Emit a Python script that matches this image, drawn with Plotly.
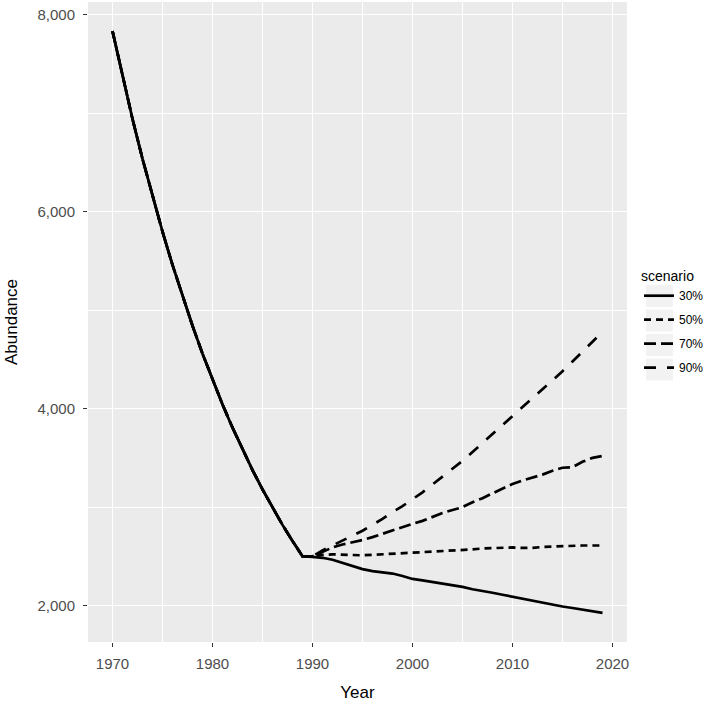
import plotly.graph_objects as go

# ---------------- data ----------------
hist_years = list(range(1970, 1990))
hist_values = [7836, 7373, 6943, 6538, 6157, 5798, 5460, 5141, 4842, 4559,
               4293, 4043, 3807, 3585, 3376, 3179, 2994, 2819, 2655, 2500]

proj_years = list(range(1990, 2020))
scen_30 = [2495, 2485, 2465, 2435, 2400, 2370, 2350, 2340, 2325, 2300,
           2270, 2255, 2240, 2225, 2205, 2190, 2165, 2150, 2130, 2110,
           2090, 2065, 2045, 2025, 2005, 1990, 1975, 1960, 1945, 1925]
scen_50 = [2500, 2515, 2520, 2515, 2510, 2510, 2515, 2520, 2525, 2530,
           2540, 2545, 2550, 2555, 2555, 2560, 2570, 2580, 2585, 2585,
           2590, 2585, 2585, 2595, 2600, 2605, 2605, 2610, 2610, 2610]
scen_70 = [2500, 2545, 2590, 2620, 2640, 2665, 2695, 2730, 2765, 2800,
           2830, 2860, 2900, 2940, 2970, 3000, 3050, 3090, 3140, 3190,
           3235, 3270, 3300, 3330, 3370, 3400, 3405, 3460, 3500, 3520]
scen_90 = [2500, 2560, 2610, 2660, 2710, 2760, 2820, 2880, 2950, 3010,
           3080, 3150, 3230, 3310, 3390, 3470, 3560, 3650, 3740, 3840,
           3930, 4020, 4110, 4200, 4290, 4380, 4480, 4580, 4680, 4780]

scenario_names = ["30%", "50%", "70%", "90%"]
scenario_dash = ["solid", "7px,5px", "12px,5px", "12px,11px"]
x_ticks = [1970, 1980, 1990, 2000, 2010, 2020]
y_ticks = [2000, 4000, 6000, 8000]

# ---------------- figure ----------------
W, H = 709, 709
ML, MR, MT, MB = 88, 82, 2, 67
PW, PH = W - ML - MR, H - MT - MB

fig = go.Figure()
series = [scen_30, scen_50, scen_70, scen_90]
for name, vals, dash in zip(scenario_names, series, scenario_dash):
    fig.add_trace(go.Scatter(
        x=hist_years + proj_years, y=hist_values + vals,
        mode="lines", name=name, legendgroup=name,
        line=dict(color="black", width=2.7, dash=dash),
    ))

all_x = hist_years + proj_years
all_y = hist_values + scen_30 + scen_50 + scen_70 + scen_90
xr = max(all_x) - min(all_x)
yr = max(all_y) - min(all_y)
x_range = [min(all_x) - 0.05 * xr, max(all_x) + 0.05 * xr]
y_range = [min(all_y) - 0.05 * yr, max(all_y) + 0.05 * yr]

FONT = "Liberation Sans, Arial, sans-serif"

fig.update_layout(
    width=W, height=H,
    margin=dict(l=ML, r=MR, t=MT, b=MB, autoexpand=False),
    paper_bgcolor="white", plot_bgcolor="#EBEBEB",
    font=dict(family=FONT, color="black"),
    showlegend=True,
    legend=dict(
        title=dict(text="scenario", font=dict(size=14, color="black")),
        font=dict(size=12, color="black"),
        x=(639 - ML) / PW, xanchor="left",
        y=(H - MB - 263) / PH, yanchor="top",
        bgcolor="rgba(0,0,0,0)", tracegroupgap=5,
        itemwidth=30,
    ),
)

fig.update_xaxes(
    range=x_range, tickvals=x_ticks, ticktext=[str(t) for t in x_ticks],
    showgrid=True, gridcolor="white", gridwidth=1.4,
    minor=dict(dtick=5, tick0=1965, showgrid=True, gridcolor="white", gridwidth=0.7),
    zeroline=False, showline=False, automargin=False,
    ticks="outside", ticklen=4, tickwidth=1, tickcolor="#333333",
    ticklabelstandoff=4,
    tickfont=dict(size=15, color="#4D4D4D", family=FONT),
    title=dict(text="Year", font=dict(size=17, color="black", family=FONT)),
)
fig.update_yaxes(
    range=y_range, tickvals=y_ticks, tickformat=",d",
    showgrid=True, gridcolor="white", gridwidth=1.4,
    minor=dict(dtick=1000, tick0=1000, showgrid=True, gridcolor="white", gridwidth=0.7),
    zeroline=False, showline=False, automargin=False,
    ticks="outside", ticklen=4, tickwidth=1, tickcolor="#333333",
    ticklabelstandoff=5,
    tickfont=dict(size=15, color="#4D4D4D", family=FONT),
    title=dict(text="Abundance", font=dict(size=17, color="black", family=FONT)),
)

# grey legend key backgrounds (ggplot style)
key_centers_px = [296, 320.5, 345, 369.5]
for cy in key_centers_px:
    fig.add_shape(
        type="rect", xref="paper", yref="paper",
        x0=(646 - ML) / PW, x1=(673 - ML) / PW,
        y0=(H - MB - (cy + 11)) / PH, y1=(H - MB - (cy - 11)) / PH,
        fillcolor="#F2F2F2", line=dict(width=0), layer="below",
    )

fig.write_html(
    "out.html",
    config={"displayModeBar": False},
    post_script="document.body.style.margin='0';document.body.style.overflow='hidden';",
)
